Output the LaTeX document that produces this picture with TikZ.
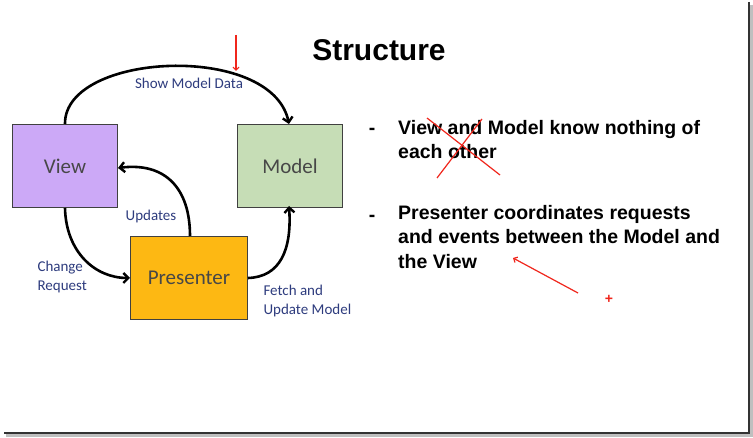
\documentclass[tikz,border=0pt]{standalone}
\usepackage{fontspec}
\setmainfont{Liberation Sans}
\newfontfamily\handfont{Carlito}
\usetikzlibrary{arrows.meta}
\definecolor{viewc}{HTML}{CCA9F7}
\definecolor{modelc}{HTML}{C6DDB6}
\definecolor{presc}{HTML}{FDB813}
\definecolor{labc}{HTML}{2E3C7E}
\definecolor{boxtxt}{HTML}{474747}
\definecolor{annot}{HTML}{F0261C}
\tikzset{
  x=1pt, y=-1pt,
  boxnode/.style={draw=black!75, line width=1pt, minimum width=105pt, minimum height=83pt, anchor=north west, inner sep=0pt, text=boxtxt, font=\handfont\fontsize{21}{24}\selectfont},
  flow/.style={line width=2.6pt, -{Straight Barb[length=5pt,width=10pt,line width=2.4pt]}},
  lab/.style={text=labc, font=\handfont\fontsize{15}{19.5}\selectfont, align=left},
  bullettext/.style={anchor=north west, align=left, inner sep=0pt, font=\bfseries\fontsize{19.5}{24.5}\selectfont},
  dashnode/.style={font=\bfseries\fontsize{19.5}{24.5}\selectfont, inner sep=0pt},
  redline/.style={draw=annot, line width=1.2pt},
}
\begin{document}
\begin{tikzpicture}
\useasboundingbox (0,0) rectangle (753,438);
\fill[white] (0,0) rectangle (753,438);
% slide frame shadow
\draw[black!25, line width=2.5pt] (751.5,5) -- (751.5,435.5) -- (6,435.5);
\draw[black!80, line width=1.3pt] (749,2) -- (749,433) -- (4,433);

% title
\node[font=\bfseries\fontsize{30}{34}\selectfont] (title) at (379,50) {Structure};

% boxes
\node[boxnode, fill=viewc] (view) at (12,124) {View};
\node[boxnode, fill=modelc] (model) at (237,124) {Model};
\node[boxnode, fill=presc, minimum width=117pt] (pres) at (130,236) {Presenter};

% connectors
\draw[flow] (view.north) .. controls (64,52) and (272,42) .. ([xshift=-1pt]model.north);
\draw[flow] ([xshift=1pt]pres.north) .. controls (190,188) and (165,162) .. ([yshift=-2pt]view.east);
\draw[flow] (view.south) .. controls (66,252) and (95,278) .. (pres.west);
\draw[flow] (pres.east) .. controls (280,277) and (292,250) .. ([xshift=-1pt,yshift=2pt]model.south);

% labels
\node[lab] (l1) at (189,83) {Show Model Data};
\node[lab] (l2) at (151,217) {Updates};
\node[lab, anchor=west] (l3) at (34,277) {Change\\Request};
\node[lab, anchor=west] (l4) at (260,301) {Fetch and\\Update Model};

% bullets
\node[dashnode] (d1) at (372,131) {-};
\node[bullettext] (b1) at (398,120) {View and Model know nothing of\\each other};
\node[dashnode] (d2) at (372,218) {-};
\node[bullettext] (b2) at (398,205) {Presenter coordinates requests\\and events between the Model and\\the View};

% red annotations
\coordinate (ra1) at (236,35);
\coordinate (ra2) at (236,71);
\draw[redline, -{Straight Barb[length=3pt,width=6pt]}] (ra1) -- (ra2);
\coordinate (x1a) at (427,118);
\coordinate (x1b) at (500,175);
\coordinate (x2a) at (482,119);
\coordinate (x2b) at (437,178);
\draw[redline] (x1a) -- (x1b);
\draw[redline] (x2a) -- (x2b);
\coordinate (ar1) at (578,293);
\coordinate (ar2) at (513,258);
\draw[redline, -{Straight Barb[length=3pt,width=6pt]}] (ar1) -- (ar2);
\node[text=annot, font=\bfseries\fontsize{14}{14}\selectfont, inner sep=0pt] (plus) at (609,299) {+};
\end{tikzpicture}
\end{document}
